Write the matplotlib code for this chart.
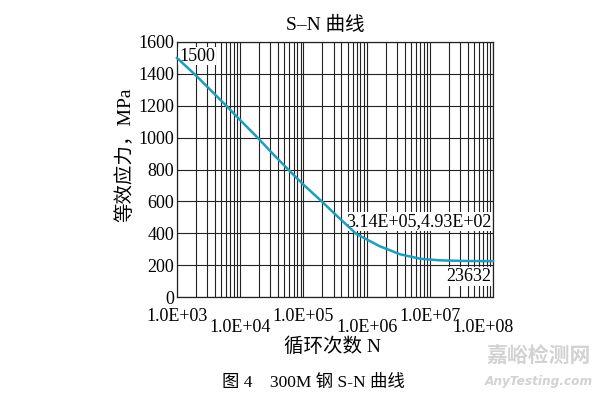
import numpy as np
import matplotlib
matplotlib.use("Agg")
import matplotlib.pyplot as plt
from matplotlib.ticker import FixedLocator, LogLocator, NullFormatter
from matplotlib.transforms import ScaledTranslation

# data
cycles = [1e3, 10**3.3, 10**3.78, 1e4, 10**4.275, 10**4.5, 10**4.76, 1e5,
          10**5.29, 10**5.5, 10**5.84, 10**6.21, 10**6.53, 10**6.85,
          10**7.16, 10**7.58, 1e8]
stress = [1500, 1390, 1200, 1110, 1000, 905, 800, 705,
          600, 520, 395, 318, 268, 240, 230, 226, 225]
xticks = [1e3, 1e4, 1e5, 1e6, 1e7, 1e8]
xtick_labels = ["1.0E+03", "1.0E+04", "1.0E+05", "1.0E+06", "1.0E+07", "1.0E+08"]
yticks = [0, 200, 400, 600, 800, 1000, 1200, 1400, 1600]

SERIF = ["Liberation Serif", "Noto Sans CJK SC", "DejaVu Sans"]
CJK = ["Noto Sans CJK SC", "Liberation Serif", "DejaVu Sans"]
plt.rcParams["font.family"] = SERIF
FS = 13

fig = plt.figure(figsize=(5.95, 3.99), dpi=100)
W, H = 595, 399
L, R, T, B = 177, 493, 42, 297
ax = fig.add_axes([L / W, 1 - B / H, (R - L) / W, (B - T) / H])

ax.plot(cycles, stress, color="#1f9cc0", lw=1.8, zorder=5, clip_on=False)
ax.set_xscale("log")
ax.set_xlim(1e3, 1e8)
ax.set_ylim(0, 1600)
ax.xaxis.set_major_locator(FixedLocator(xticks))
ax.xaxis.set_minor_locator(LogLocator(base=10, subs=np.arange(2, 10)))
ax.xaxis.set_minor_formatter(NullFormatter())
ax.set_xticks(xticks)
ax.set_xticklabels(xtick_labels, fontsize=FS)
ax.set_yticks(yticks)
ax.set_yticklabels([str(v) for v in yticks], fontsize=FS)
ax.tick_params(which="both", length=0)
ax.tick_params(axis="x", pad=8)
ax.tick_params(axis="y", pad=2)
ax.grid(True, which="both", axis="x", color="#222222", lw=0.8)
ax.grid(True, which="major", axis="y", color="#222222", lw=0.8)
for s in ax.spines.values():
    s.set_color("#222222")
    s.set_linewidth(0.9)

fig.canvas.draw()
for i, lab in enumerate(ax.get_xticklabels()):
    dx = 0
    dy = 0
    if i % 2 == 1:
        dy = -11
    if i == 5:
        dx = -10
    lab.set_transform(lab.get_transform() + ScaledTranslation(dx / 100, dy / 100, fig.dpi_scale_trans))

bbox = dict(facecolor="white", edgecolor="none", pad=0.5)
ax.text(1.08e3, 1512, "1500", fontsize=FS, ha="left", va="center", bbox=bbox, zorder=4)
ax.text(10**7.97, 474, "3.14E+05,4.93E+02", fontsize=FS, ha="right", va="center",
        bbox=bbox, zorder=4)
ax.text(10**7.97, 130, "23632", fontsize=FS, ha="right", va="center", bbox=bbox, zorder=4)

fig.text(325 / W, 1 - 25 / H, "S–N 曲线", fontsize=14, ha="center", va="center",
         family=SERIF)
fig.text(125 / W, 1 - 155 / H, "等效应力，MPa", fontsize=14, ha="center", va="center",
         rotation=90, family=SERIF)
fig.text(332 / W, 1 - 347 / H, "循环次数 N", fontsize=14, ha="center", va="center",
         family=SERIF)
fig.text(313 / W, 1 - 383 / H, "图 4    300M 钢 S-N 曲线", fontsize=12.5, ha="center",
         va="center", family=SERIF)

fig.text(539 / W, 1 - 355 / H, "嘉峪检测网", fontsize=15, ha="center", va="center",
         family=CJK, color="#d2d2d2", weight="bold")
fig.text(539 / W, 1 - 381 / H, "AnyTesting.com", fontsize=8.7, ha="center", va="center",
         family=["DejaVu Sans"], style="italic", color="#d2d2d2", weight="bold")

fig.savefig("out.png", dpi=100)
